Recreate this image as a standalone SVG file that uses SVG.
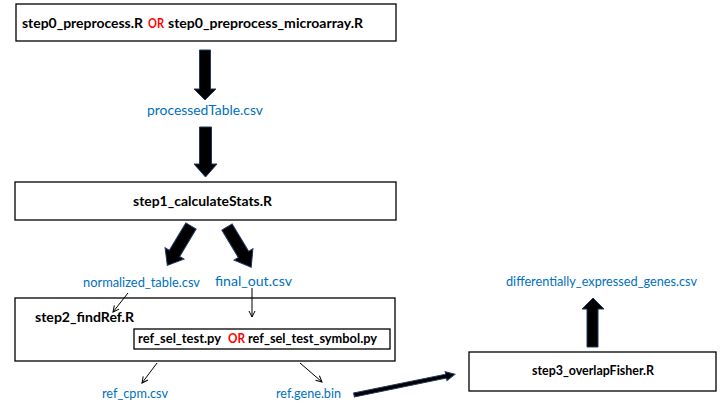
<svg xmlns="http://www.w3.org/2000/svg" width="720" height="405" viewBox="0 0 720 405">
<style>
.box{fill:#fff;stroke:#000;stroke-width:1.3}
.t{font-family:Lato,"Liberation Sans",Arial,sans-serif;font-weight:bold;font-size:13.3px;fill:#000}
.or{fill:#ff0000}
.lbl{font-family:Lato,"Liberation Sans",Arial,sans-serif;font-size:13.3px;fill:#0070c0}
.blk{fill:#000;stroke:#1f3864;stroke-width:1}
.thin{stroke:#000;stroke-width:1;fill:none;marker-end:url(#ah)}
</style>
<defs>
<marker id="ah" markerWidth="8" markerHeight="8" refX="7" refY="4" orient="auto" markerUnits="userSpaceOnUse">
<path d="M1,1 L7,4 L1,7" fill="none" stroke="#000" stroke-width="1"/>
</marker>
</defs>
<rect width="720" height="405" fill="#fff"/>
<g id="step0">
<rect class="box" x="16" y="4" width="380" height="37"/>
<text class="t" x="22" y="28" textLength="121" lengthAdjust="spacingAndGlyphs">step0_preprocess.R</text>
<text class="t or" x="148" y="28" textLength="16" lengthAdjust="spacingAndGlyphs">OR</text>
<text class="t" x="168" y="28" textLength="195" lengthAdjust="spacingAndGlyphs">step0_preprocess_microarray.R</text>
</g>
<g id="processedTable">
<text class="lbl" x="147" y="115" textLength="116" lengthAdjust="spacingAndGlyphs">processedTable.csv</text>
</g>
<g id="step1">
<rect class="box" x="15" y="182" width="381" height="38"/>
<text class="t" x="133" y="206" textLength="139" lengthAdjust="spacingAndGlyphs">step1_calculateStats.R</text>
</g>
<g id="normalized">
<text class="lbl" x="83" y="287" textLength="117" lengthAdjust="spacingAndGlyphs">normalized_table.csv</text>
</g>
<g id="finalout">
<text class="lbl" x="215" y="286" textLength="77" lengthAdjust="spacingAndGlyphs">final_out.csv</text>
</g>
<g id="step2">
<rect class="box" x="15" y="298" width="380" height="63"/>
<text class="t" x="35" y="322" textLength="99" lengthAdjust="spacingAndGlyphs">step2_findRef.R</text>
<g id="refsel">
<rect class="box" x="134" y="329" width="256" height="20"/>
<text class="t" x="138" y="343" textLength="83" lengthAdjust="spacingAndGlyphs">ref_sel_test.py</text>
<text class="t or" x="228" y="343" textLength="17" lengthAdjust="spacingAndGlyphs">OR</text>
<text class="t" x="248" y="343" textLength="129" lengthAdjust="spacingAndGlyphs">ref_sel_test_symbol.py</text>
</g>
</g>
<g id="refcpm">
<text class="lbl" x="102" y="398" textLength="66" lengthAdjust="spacingAndGlyphs">ref_cpm.csv</text>
</g>
<g id="refgene">
<text class="lbl" x="276" y="398" textLength="65" lengthAdjust="spacingAndGlyphs">ref.gene.bin</text>
</g>
<g id="step3">
<rect class="box" x="469" y="352" width="247" height="39"/>
<text class="t" x="532" y="375" textLength="122" lengthAdjust="spacingAndGlyphs">step3_overlapFisher.R</text>
</g>
<g id="deg">
<text class="lbl" x="506" y="286" textLength="191" lengthAdjust="spacingAndGlyphs">differentially_expressed_genes.csv</text>
</g>
<g id="connectors">
<polygon class="blk" points="199.5,50 210.5,50 210.5,89 216,89 205,100 194,89 199.5,89"/>
<polygon class="blk" points="199.5,127 211.5,127 211.5,164 217,164 205.5,177 194,164 199.5,164"/>
<g transform="translate(191,226) rotate(121)">
<polygon class="blk" points="0,-6 32,-6 32,-11 46,0 32,11 32,6 0,6"/>
</g>
<g transform="translate(227,227) rotate(59)">
<polygon class="blk" points="0,-6 32,-6 32,-11 47,0 32,11 32,6 0,6"/>
</g>
<polygon class="blk" points="587,347 598,347 598,309 604,309 593,298 582,309 587,309"/>
<g transform="translate(354,395) rotate(-11.6)">
<polygon class="blk" points="0,-2 94,-2 94,-4.5 103,0 94,4.5 94,2 0,2"/>
</g>
<line class="thin" x1="128" y1="293" x2="113" y2="312"/>
<line class="thin" x1="252" y1="288" x2="252" y2="317"/>
<line class="thin" x1="157" y1="363" x2="142" y2="383"/>
<line class="thin" x1="300" y1="363" x2="322" y2="382"/>
</g>
</svg>
